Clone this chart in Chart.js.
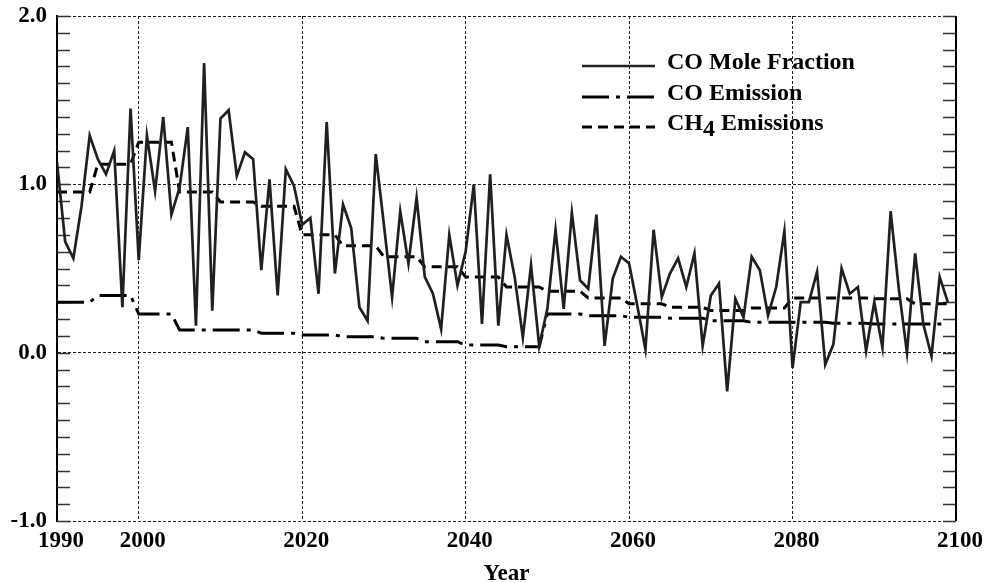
<!DOCTYPE html>
<html>
<head>
<meta charset="utf-8">
<title>CO Mole Fraction / CO and CH4 Emissions</title>
<script src="https://cdn.jsdelivr.net/npm/chart.js@4.4.1/dist/chart.umd.min.js"></script>
<style>
    html, body { margin: 0; padding: 0; background: #fff; }
    #chart-wrap { width: 987px; height: 583px; }
</style>
</head>
<body>
<div id="chart-wrap"><canvas id="co-chart" width="987" height="583"></canvas></div>
<script>
// --- 1. DATOS ---

const startYear = 1990;
const seriesNames = ['CO Mole Fraction', 'CO Emission', 'CH4 Emissions'];
const xTickValues = [1990, 2000, 2020, 2040, 2060, 2080, 2100];
const yTickValues = [-1, 0, 1, 2];
const xTitle = 'Year';

// one value per year, 1990-2099
const coMoleFraction = [
    1.13, 0.66, 0.56, 0.87, 1.29, 1.15, 1.06, 1.20, 0.27, 1.45,   // 1990
    0.55, 1.29, 0.96, 1.40, 0.82, 0.98, 1.34, 0.16, 1.72, 0.25,   // 2000
    1.39, 1.44, 1.05, 1.19, 1.15, 0.49, 1.03, 0.34, 1.09, 0.99,   // 2010
    0.76, 0.80, 0.35, 1.37, 0.47, 0.88, 0.74, 0.27, 0.19, 1.18,   // 2020
    0.76, 0.33, 0.84, 0.53, 0.92, 0.45, 0.35, 0.14, 0.70, 0.40,   // 2030
    0.60, 1.00, 0.17, 1.06, 0.16, 0.70, 0.45, 0.09, 0.52, 0.04,   // 2040
    0.26, 0.73, 0.26, 0.83, 0.43, 0.38, 0.82, 0.04, 0.44, 0.57,   // 2050
    0.53, 0.28, 0.02, 0.73, 0.33, 0.47, 0.56, 0.39, 0.59, 0.04,   // 2060
    0.34, 0.41, -0.23, 0.32, 0.21, 0.57, 0.49, 0.22, 0.39, 0.72,  // 2070
    -0.09, 0.30, 0.30, 0.48, -0.07, 0.05, 0.50, 0.35, 0.39, 0.01, // 2080
    0.30, 0.03, 0.84, 0.38, 0.00, 0.59, 0.17, -0.02, 0.45, 0.30   // 2090
];

const coEmission = [
    0.30, 0.30, 0.30, 0.30, 0.30, 0.34, 0.34, 0.34, 0.34, 0.34,             // 1990
    0.23, 0.23, 0.23, 0.23, 0.23, 0.135, 0.135, 0.135, 0.135, 0.135,        // 2000
    0.135, 0.135, 0.135, 0.135, 0.135, 0.115, 0.115, 0.115, 0.115, 0.115,   // 2010
    0.105, 0.105, 0.105, 0.105, 0.105, 0.095, 0.095, 0.095, 0.095, 0.095,   // 2020
    0.085, 0.085, 0.085, 0.085, 0.085, 0.065, 0.065, 0.065, 0.065, 0.065,   // 2030
    0.045, 0.045, 0.045, 0.045, 0.045, 0.035, 0.035, 0.035, 0.035, 0.035,   // 2040
    0.23, 0.23, 0.23, 0.23, 0.23, 0.22, 0.22, 0.22, 0.22, 0.22,             // 2050
    0.21, 0.21, 0.21, 0.21, 0.21, 0.205, 0.205, 0.205, 0.205, 0.205,        // 2060
    0.19, 0.19, 0.19, 0.19, 0.19, 0.18, 0.18, 0.18, 0.18, 0.18,             // 2070
    0.18, 0.18, 0.18, 0.18, 0.18, 0.175, 0.175, 0.175, 0.175, 0.175,        // 2080
    0.17, 0.17, 0.17, 0.17, 0.17, 0.17, 0.17, 0.17, 0.17, 0.17              // 2090
];

const ch4Emissions = [
    0.955, 0.955, 0.955, 0.955, 0.955, 1.12, 1.12, 1.12, 1.12, 1.12,        // 1990
    1.25, 1.25, 1.25, 1.25, 1.25, 0.955, 0.955, 0.955, 0.955, 0.955,        // 2000
    0.895, 0.895, 0.895, 0.895, 0.895, 0.87, 0.87, 0.87, 0.87, 0.87,        // 2010
    0.70, 0.70, 0.70, 0.70, 0.70, 0.635, 0.635, 0.635, 0.635, 0.635,        // 2020
    0.57, 0.57, 0.57, 0.57, 0.57, 0.51, 0.51, 0.51, 0.51, 0.51,             // 2030
    0.45, 0.45, 0.45, 0.45, 0.45, 0.39, 0.39, 0.39, 0.39, 0.39,             // 2040
    0.365, 0.365, 0.365, 0.365, 0.365, 0.325, 0.325, 0.325, 0.325, 0.325,   // 2050
    0.29, 0.29, 0.29, 0.29, 0.29, 0.27, 0.27, 0.27, 0.27, 0.27,             // 2060
    0.25, 0.25, 0.25, 0.25, 0.25, 0.265, 0.265, 0.265, 0.265, 0.265,        // 2070
    0.325, 0.325, 0.325, 0.325, 0.325, 0.325, 0.325, 0.325, 0.325, 0.325,   // 2080
    0.32, 0.32, 0.32, 0.32, 0.32, 0.29, 0.29, 0.29, 0.29, 0.29              // 2090
];

// --- 2. ESTILO ---

const serifFont = "'Liberation Serif', 'Times New Roman', Times, serif";
const toPoints = (values) => values.map((v, i) => ({ x: startYear + i, y: v }));

// legend: line sample and text positions
const legendLayout = { x: 582, lineLen: 73, textX: 667, rows: [66, 97, 127], size: 24 };

// inward minor ticks on both y edges, solid right edge, legend with subscripts
const frameAndLegend = {
    id: 'frameAndLegend',
    beforeDatasetsDraw(chart) {
        const { ctx, chartArea: a, scales: { y } } = chart;
        ctx.save();
        ctx.strokeStyle = '#333';
        ctx.lineWidth = 1.5;
        ctx.beginPath();
        for (let k = -10; k <= 20; k++) {
            const py = Math.round(y.getPixelForValue(k / 10)) + 0.5;
            ctx.moveTo(a.left, py);
            ctx.lineTo(a.left + 13, py);
            ctx.moveTo(a.right - 13, py);
            ctx.lineTo(a.right, py);
        }
        ctx.stroke();
        ctx.strokeStyle = '#000';
        ctx.lineWidth = 2;
        ctx.beginPath();
        ctx.moveTo(a.right, a.top);
        ctx.lineTo(a.right, a.bottom);
        ctx.stroke();
        ctx.restore();
    },
    afterDatasetsDraw(chart) {
        const { ctx } = chart;
        const L = legendLayout;
        ctx.save();
        chart.data.datasets.forEach((ds, i) => {
            const yLine = L.rows[i];
            ctx.strokeStyle = ds.borderColor;
            ctx.lineWidth = ds.borderWidth;
            ctx.setLineDash(ds.borderDash || []);
            ctx.beginPath();
            ctx.moveTo(L.x, yLine);
            ctx.lineTo(L.x + L.lineLen, yLine);
            ctx.stroke();
            ctx.setLineDash([]);

            // digits in the label are drawn as subscripts (CH4)
            ctx.fillStyle = '#000';
            ctx.font = `bold ${L.size}px ${serifFont}`;
            ctx.textBaseline = 'alphabetic';
            let tx = L.textX;
            ds.label.split(/(\d+)/).forEach(part => {
                if (!part) return;
                const sub = /^\d+$/.test(part);
                ctx.fillText(part, tx, yLine + 3 + (sub ? 6 : 0));
                tx += ctx.measureText(part).width;
            });
        });
        ctx.restore();
    }
};

// --- 3. GRÁFICO ---

new Chart(document.getElementById('co-chart'), {
    type: 'line',
    data: {
        datasets: [
            {
                label: seriesNames[0],
                data: toPoints(coMoleFraction),
                borderColor: '#231f20',
                borderWidth: 2.7,
                borderJoinStyle: 'miter',
                pointRadius: 0,
                tension: 0
            },
            {
                label: seriesNames[1],
                data: toPoints(coEmission),
                borderColor: '#000',
                borderWidth: 3,
                borderDash: [27, 7, 4, 7],
                pointRadius: 0,
                tension: 0
            },
            {
                label: seriesNames[2],
                data: toPoints(ch4Emissions),
                borderColor: '#000',
                borderWidth: 3,
                borderDash: [10, 6],
                pointRadius: 0,
                tension: 0
            }
        ]
    },
    options: {
        responsive: false,
        animation: false,
        devicePixelRatio: 1,
        events: [],
        layout: { padding: { left: 0, right: 31, top: 16, bottom: 0 } },
        plugins: {
            legend: { display: false },
            tooltip: { enabled: false }
        },
        scales: {
            x: {
                type: 'linear',
                min: 1990,
                max: 2100,
                afterBuildTicks: (s) => { s.ticks = xTickValues.map(v => ({ value: v })); },
                afterFit: (s) => { s.height = 62; s.paddingLeft = 0; s.paddingRight = 0; },
                grid: {
                    color: (c) => (c.tick && (c.tick.value === 1990 || c.tick.value === 2100)) ? 'rgba(0,0,0,0)' : '#222',
                    lineWidth: 1,
                    drawTicks: false
                },
                border: { display: false, dash: [3, 2] },
                ticks: {
                    callback: (v) => String(v),
                    autoSkip: false,
                    maxRotation: 0,
                    padding: 6,
                    labelOffset: 4,
                    color: '#000',
                    font: { family: serifFont, size: 23, weight: 'bold' }
                },
                title: {
                    display: true,
                    text: xTitle,
                    color: '#000',
                    padding: { top: 0, bottom: 0 },
                    font: { family: serifFont, size: 23, weight: 'bold', lineHeight: 0.75 }
                }
            },
            y: {
                type: 'linear',
                min: -1,
                max: 2,
                afterBuildTicks: (s) => { s.ticks = yTickValues.map(v => ({ value: v })); },
                afterFit: (s) => { s.width = 57; s.paddingTop = 0; s.paddingBottom = 0; },
                grid: { color: '#222', lineWidth: 1, drawTicks: false },
                border: { display: true, color: '#000', width: 2, dash: [3, 2] },
                ticks: {
                    callback: (v) => Number(v).toFixed(1),
                    autoSkip: false,
                    padding: 10,
                    color: '#000',
                    font: { family: serifFont, size: 23, weight: 'bold' }
                }
            }
        }
    },
    plugins: [frameAndLegend]
});
</script>
</body>
</html>
